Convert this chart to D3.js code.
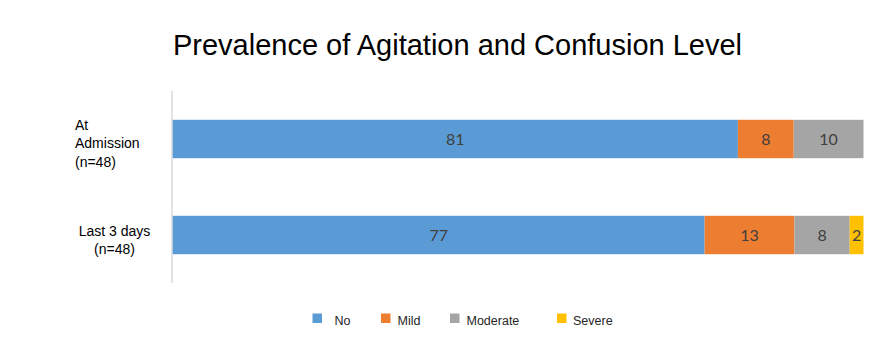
<!DOCTYPE html>
<html><head><meta charset="utf-8">
<script src="https://cdn.jsdelivr.net/npm/d3@7"></script>
<style>body{margin:0;background:#fff}svg{display:block}</style>
</head><body>
<svg id="chart" width="887" height="355"></svg>
<script>
const categories = ["At Admission (n=48)", "Last 3 days (n=48)"];
const seriesNames = ["No", "Mild", "Moderate", "Severe"];
const noValues = [81, 77];
const mildValues = [8, 13];
const moderateValues = [10, 8];
const severeValues = [0, 2];
const colors = ["#5B9BD5", "#ED7D31", "#A5A5A5", "#FFC000"];
const title = "Prevalence of Agitation and Confusion Level";

const rows = categories.map((c, i) => ({
  cat: c, No: noValues[i], Mild: mildValues[i], Moderate: moderateValues[i], Severe: severeValues[i]
}));

const svg = d3.select("#chart");
const x = d3.scaleLinear().domain([0, 1]).range([172.7, 863.5]);
const y = d3.scaleBand().domain(categories).range([91, 283]).paddingInner(0.6).paddingOuter(0.3);
const color = d3.scaleOrdinal().domain(seriesNames).range(colors);

const stack = d3.stack().keys(seriesNames).offset(d3.stackOffsetExpand);
const layers = stack(rows);

svg.append("text").attr("x", 457.5).attr("y", 54.5).attr("text-anchor", "middle")
  .attr("font-family", "Liberation Sans, Arial, sans-serif").attr("font-size", 29)
  .attr("fill", "#000").text(title);

// axis line
svg.append("line").attr("x1", 172).attr("x2", 172).attr("y1", 91).attr("y2", 283)
  .attr("stroke", "#d9d9d9").attr("stroke-width", 1.5);

const g = svg.append("g");
layers.forEach(layer => {
  const key = layer.key;
  layer.forEach((d, i) => {
    const v = rows[i][key];
    if (!v) return;
    g.append("rect").attr("x", x(d[0])).attr("y", y(rows[i].cat))
      .attr("width", x(d[1]) - x(d[0])).attr("height", y.bandwidth())
      .attr("fill", color(key));
    g.append("text").attr("x", (x(d[0]) + x(d[1])) / 2)
      .attr("y", y(rows[i].cat) + y.bandwidth() / 2 + 6)
      .attr("text-anchor", "middle").attr("font-family", "Lato, 'Open Sans', sans-serif")
      .attr("font-size", 16).attr("fill", "#404040").text(v);
  });
});

// category labels
const catLines = [
  {lines: ["At", "Admission", "(n=48)"], x: 75, anchor: "start", y0: y(categories[0]) + y.bandwidth()/2 - 9.5, dy: 18.5},
  {lines: ["Last 3 days", "(n=48)"], x: 114.5, anchor: "middle", y0: y(categories[1]) + y.bandwidth()/2 + 1, dy: 17.5}
];
catLines.forEach(c => {
  c.lines.forEach((l, k) => {
    svg.append("text").attr("x", c.x).attr("y", c.y0 + k * c.dy)
      .attr("text-anchor", c.anchor).attr("font-family", "Liberation Sans, Arial, sans-serif")
      .attr("font-size", 14).attr("fill", "#000").text(l);
  });
});

// legend
const legendX = [312.5, 381, 450, 557];
const legendTextX = [334.5, 397.5, 466.5, 573];
const leg = svg.append("g");
seriesNames.forEach((s, i) => {
  leg.append("rect").attr("x", legendX[i]).attr("y", 313.5).attr("width", 9.5).attr("height", 9.5)
    .attr("fill", colors[i]);
  leg.append("text").attr("x", legendTextX[i]).attr("y", 324.5)
    .attr("font-family", "Liberation Sans, Arial, sans-serif").attr("font-size", 12.5)
    .attr("fill", "#262626").text(s);
});
</script>
</body></html>
